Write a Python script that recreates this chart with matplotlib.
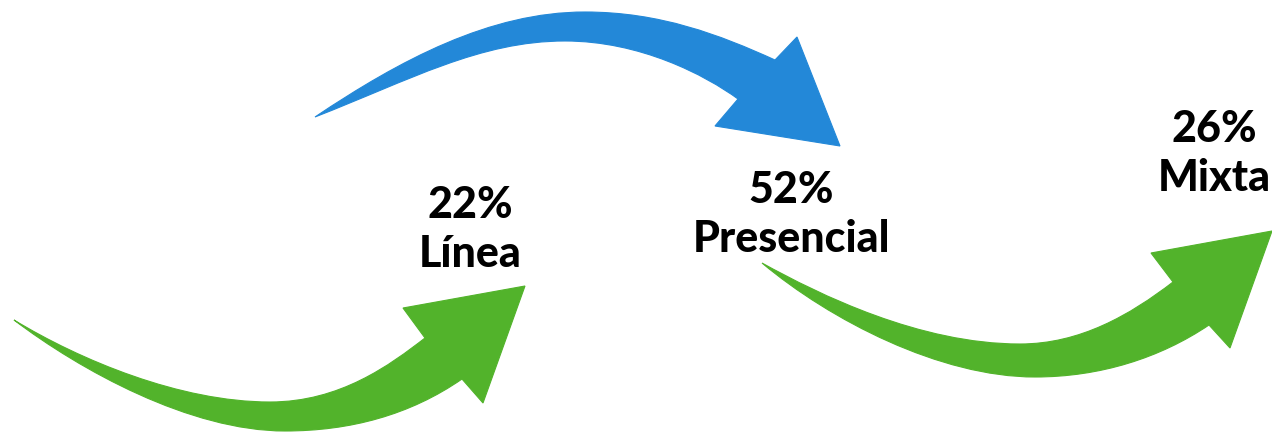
import matplotlib
matplotlib.use("Agg")
import matplotlib.pyplot as plt
from matplotlib.path import Path
from matplotlib.patches import PathPatch

# ---- data ----
categories = ["Línea", "Presencial", "Mixta"]
values = [22, 52, 26]
label_pos_x = [470, 791, 1214]
label_pos_y = [218, 203, 142]  # baseline of percentage line (pixels from top)

BLUE = "#2388d8"
GREEN = "#52b32b"

# arrow outlines (decorative shapes), pixel coordinates; each edge is a list of
# cubic Bezier segments: (start, ctrl1, ctrl2, end)
green1_upper = [((14, 320), (80, 360), (180, 402), (270, 402)),
                ((270, 402), (340, 402), (390, 365), (425, 338))]
green1_head = [(403, 308), (525, 286), (483, 403), (462, 379)]
green1_lower = [((462, 379), (410, 415), (350, 431), (285, 431)),
                ((285, 431), (190, 431), (80, 370), (14, 320))]

blue_upper = [((315, 117), (400, 60), (490, 12), (585, 12)),
              ((585, 12), (660, 12), (720, 35), (775, 60))]
blue_head = [(797, 37), (840, 146), (715, 126), (738, 99)]
blue_lower = [((738, 99), (705, 75), (640, 41), (565, 41)),
              ((565, 41), (480, 41), (410, 80), (315, 117))]

green2_upper = [((762, 263), (820, 295), (920, 344), (1020, 344)),
                ((1020, 344), (1080, 344), (1130, 315), (1173, 282))]
green2_head = [(1151, 253), (1272, 231), (1230, 348), (1209, 325)]
green2_lower = [((1209, 325), (1160, 358), (1100, 377), (1035, 377)),
                ((1035, 377), (940, 377), (830, 320), (762, 263))]


def arrow_path(upper, head, lower):
    verts = [upper[0][0]]
    codes = [Path.MOVETO]
    for seg in upper:
        verts += list(seg[1:]); codes += [Path.CURVE4] * 3
    for pt in head:
        verts.append(pt); codes.append(Path.LINETO)
    for seg in lower:
        verts += list(seg[1:]); codes += [Path.CURVE4] * 3
    verts.append(upper[0][0]); codes.append(Path.CLOSEPOLY)
    return Path(verts, codes)


fig = plt.figure(figsize=(12.72, 4.32), dpi=100)
ax = fig.add_axes([0, 0, 1, 1])
ax.set_xlim(0, 1272)
ax.set_ylim(432, 0)
ax.axis("off")

for up, hd, lo, col in [(green1_upper, green1_head, green1_lower, GREEN),
                        (blue_upper, blue_head, blue_lower, BLUE),
                        (green2_upper, green2_head, green2_lower, GREEN)]:
    ax.add_patch(PathPatch(arrow_path(up, hd, lo), facecolor=col, edgecolor=col,
                           linewidth=0.8, antialiased=True))

font = dict(family=["Lato", "DejaVu Sans"], fontweight="black", fontsize=31, color="black")
for cat, val, x, y in zip(categories, values, label_pos_x, label_pos_y):
    ax.text(x, y, f"{val}%", ha="center", va="baseline", **font)
    ax.text(x, y + 49, cat, ha="center", va="baseline", **font)

fig.savefig("out.png", dpi=100, facecolor="white")
